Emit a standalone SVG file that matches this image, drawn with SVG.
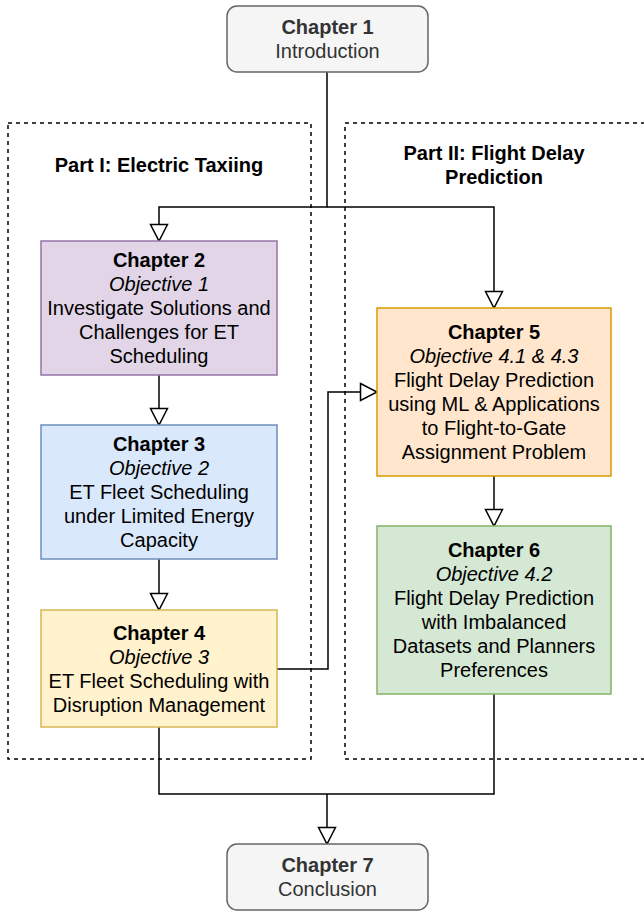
<svg xmlns="http://www.w3.org/2000/svg" width="644" height="911" viewBox="0 0 644 911">
<style>
text{font-family:"Liberation Sans",Arial,Helvetica,sans-serif;font-size:20px;text-anchor:middle;fill:#000}
.b{font-weight:bold}
.i{font-style:italic}
.g text{fill:#333}
.part{fill:none;stroke:#000;stroke-width:1.5;stroke-dasharray:4 4}
.c{fill:none;stroke:#000;stroke-width:1.5}
</style>
<defs>
<marker id="arr" markerUnits="userSpaceOnUse" markerWidth="22" markerHeight="22" refX="18" refY="10" orient="auto">
<path d="M1.5,1.5 L18,10 L1.5,18.5 Z" fill="#fff" stroke="#000" stroke-width="1.5"/>
</marker>
</defs>
<rect width="644" height="911" fill="#fff"/>
<g id="part1">
<rect class="part" x="8" y="123" width="303" height="636"/>
<text class="b" x="159" y="172">Part I: Electric Taxiing</text>
</g>
<g id="part2">
<rect class="part" x="345" y="123" width="300" height="636"/>
<text class="b" x="494" y="160">Part II: Flight Delay</text>
<text class="b" x="494" y="184">Prediction</text>
</g>
<g id="connectors">
<path class="c" d="M327,72 V207 H159 V241" marker-end="url(#arr)"/>
<path class="c" d="M327,207 H494 V308" marker-end="url(#arr)"/>
<path class="c" d="M159,375 V425" marker-end="url(#arr)"/>
<path class="c" d="M159,559 V610" marker-end="url(#arr)"/>
<path class="c" d="M277,669 H328 V392 H377" marker-end="url(#arr)"/>
<path class="c" d="M494,476 V526" marker-end="url(#arr)"/>
<path class="c" d="M159,727 V794 H494 V694"/>
<path class="c" d="M327,794 V844" marker-end="url(#arr)"/>
</g>
<g id="ch1" class="g">
<rect x="227" y="6" width="201" height="66" rx="10" fill="#f5f5f5" stroke="#666" stroke-width="1.5"/>
<text class="b" x="327.5" y="34">Chapter 1</text>
<text x="327.5" y="58">Introduction</text>
</g>
<g id="ch2">
<rect x="41" y="241" width="236" height="134" fill="#e1d5e7" stroke="#9673a6" stroke-width="1.5"/>
<text class="b" x="159" y="267">Chapter 2</text>
<text class="i" x="159" y="291">Objective 1</text>
<text x="159" y="315">Investigate Solutions and</text>
<text x="159" y="339">Challenges for ET</text>
<text x="159" y="363">Scheduling</text>
</g>
<g id="ch3">
<rect x="41" y="425" width="236" height="134" fill="#dae8fc" stroke="#6c8ebf" stroke-width="1.5"/>
<text class="b" x="159" y="451">Chapter 3</text>
<text class="i" x="159" y="475">Objective 2</text>
<text x="159" y="499">ET Fleet Scheduling</text>
<text x="159" y="523">under Limited Energy</text>
<text x="159" y="547">Capacity</text>
</g>
<g id="ch4">
<rect x="41" y="610" width="236" height="117" fill="#fff2cc" stroke="#d6b656" stroke-width="1.5"/>
<text class="b" x="159" y="639.5">Chapter 4</text>
<text class="i" x="159" y="663.5">Objective 3</text>
<text x="159" y="687.5">ET Fleet Scheduling with</text>
<text x="159" y="711.5">Disruption Management</text>
</g>
<g id="ch5">
<rect x="377" y="308" width="234" height="168" fill="#ffe6cc" stroke="#d79b00" stroke-width="1.5"/>
<text class="b" x="494" y="339">Chapter 5</text>
<text class="i" x="494" y="363">Objective 4.1 &amp; 4.3</text>
<text x="494" y="387">Flight Delay Prediction</text>
<text x="494" y="411">using ML &amp; Applications</text>
<text x="494" y="435">to Flight-to-Gate</text>
<text x="494" y="459">Assignment Problem</text>
</g>
<g id="ch6">
<rect x="377" y="526" width="234" height="168" fill="#d5e8d4" stroke="#82b366" stroke-width="1.5"/>
<text class="b" x="494" y="557">Chapter 6</text>
<text class="i" x="494" y="581">Objective 4.2</text>
<text x="494" y="605">Flight Delay Prediction</text>
<text x="494" y="629">with Imbalanced</text>
<text x="494" y="653">Datasets and Planners</text>
<text x="494" y="677">Preferences</text>
</g>
<g id="ch7" class="g">
<rect x="227" y="844" width="201" height="66" rx="10" fill="#f5f5f5" stroke="#666" stroke-width="1.5"/>
<text class="b" x="327.5" y="872">Chapter 7</text>
<text x="327.5" y="896">Conclusion</text>
</g>
</svg>
